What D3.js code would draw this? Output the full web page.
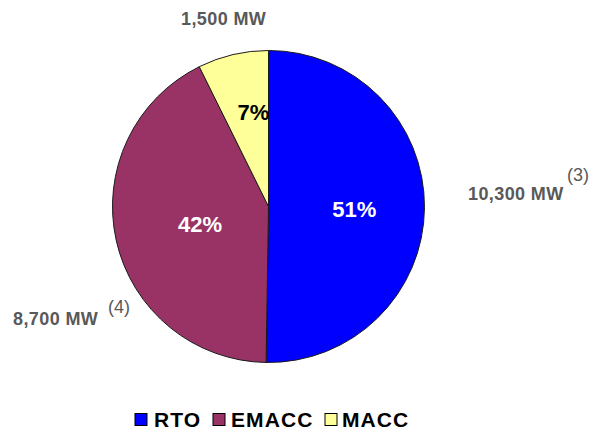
<!DOCTYPE html>
<html>
<head>
<meta charset="utf-8">
<script src="https://cdn.jsdelivr.net/npm/d3@7/dist/d3.min.js"></script>
<style>
  html, body { margin: 0; padding: 0; background: #ffffff; }
  svg { display: block; font-family: "Liberation Sans", Arial, sans-serif; }
</style>
</head>
<body>
<svg id="chart" width="603" height="435"></svg>
<script>
// Capacity by region (MW)
const categories = ["RTO", "EMACC", "MACC"];
const capacityMW = [10300, 8700, 1500];
const percentLabels = ["51%", "42%", "7%"];
const mwLabels = ["10,300 MW", "8,700 MW", "1,500 MW"];
const footnotes = ["(3)", "(4)", ""];
const colors = ["#0000FF", "#993366", "#FFFF99"];

const svg = d3.select("#chart");
const cx = 268.5, cy = 206.5, radius = 156;

const data = categories.map((c, i) => ({
  name: c, value: capacityMW[i], pct: percentLabels[i],
  mw: mwLabels[i], note: footnotes[i]
}));

const color = d3.scaleOrdinal().domain(categories).range(colors);

const pie = d3.pie().sort(null).value(d => d.value).startAngle(0).endAngle(2 * Math.PI);
const arc = d3.arc().innerRadius(0).outerRadius(radius);
const arcs = pie(data);

const g = svg.append("g").attr("transform", `translate(${cx},${cy})`);

g.selectAll("path.slice")
  .data(arcs)
  .join("path")
  .attr("class", "slice")
  .attr("d", arc)
  .attr("fill", d => color(d.data.name))
  .attr("stroke", "#1a1a1a")
  .attr("stroke-width", 1);

// Percentage labels inside slices
const pctPos = {
  RTO:   { r: 0.55, dx: 0, dy: 2 },
  EMACC: { r: 0.45, dx: 0, dy: 2 },
  MACC:  { r: 0.62, dx: 7, dy: 0 }
};
g.selectAll("text.pct")
  .data(arcs)
  .join("text")
  .attr("class", "pct")
  .attr("transform", d => {
    const p = pctPos[d.data.name];
    const a = (d.startAngle + d.endAngle) / 2;
    const x = Math.sin(a) * radius * p.r + p.dx;
    const y = -Math.cos(a) * radius * p.r + p.dy;
    return `translate(${x},${y})`;
  })
  .attr("text-anchor", "middle")
  .attr("dy", "0.36em")
  .attr("font-size", 22)
  .attr("font-weight", "bold")
  .attr("fill", d => d.data.name === "MACC" ? "#000000" : "#ffffff")
  .text(d => d.data.pct);

// Outside MW labels with footnote markers
const outside = {
  RTO:   { x: 468, y: 200, note: [567, 181] },
  EMACC: { x: 13,  y: 325, note: [108, 313] },
  MACC:  { x: 181, y: 25,  note: null }
};
data.forEach(d => {
  const o = outside[d.name];
  svg.append("text")
    .attr("x", o.x).attr("y", o.y)
    .attr("font-size", 18)
    .attr("font-weight", "bold")
    .attr("letter-spacing", 0.4)
    .attr("fill", "#595959")
    .text(d.mw);
  if (o.note && d.note) {
    svg.append("text")
      .attr("x", o.note[0]).attr("y", o.note[1])
      .attr("font-size", 18)
      .attr("fill", "#595959")
      .text(d.note);
  }
});

// Legend
const legendItems = [
  { sx: 135, tx: 154 },
  { sx: 213, tx: 231 },
  { sx: 325, tx: 342 }
];
const legend = svg.append("g");
data.forEach((d, i) => {
  const it = legendItems[i];
  legend.append("rect")
    .attr("x", it.sx).attr("y", 413.5)
    .attr("width", 12).attr("height", 12)
    .attr("fill", color(d.name))
    .attr("stroke", "#000000")
    .attr("stroke-width", 1);
  legend.append("text")
    .attr("x", it.tx).attr("y", 427)
    .attr("font-size", 21)
    .attr("font-weight", "bold")
    .attr("letter-spacing", 1.1)
    .attr("fill", "#000000")
    .text(d.name);
});
</script>
</body>
</html>
